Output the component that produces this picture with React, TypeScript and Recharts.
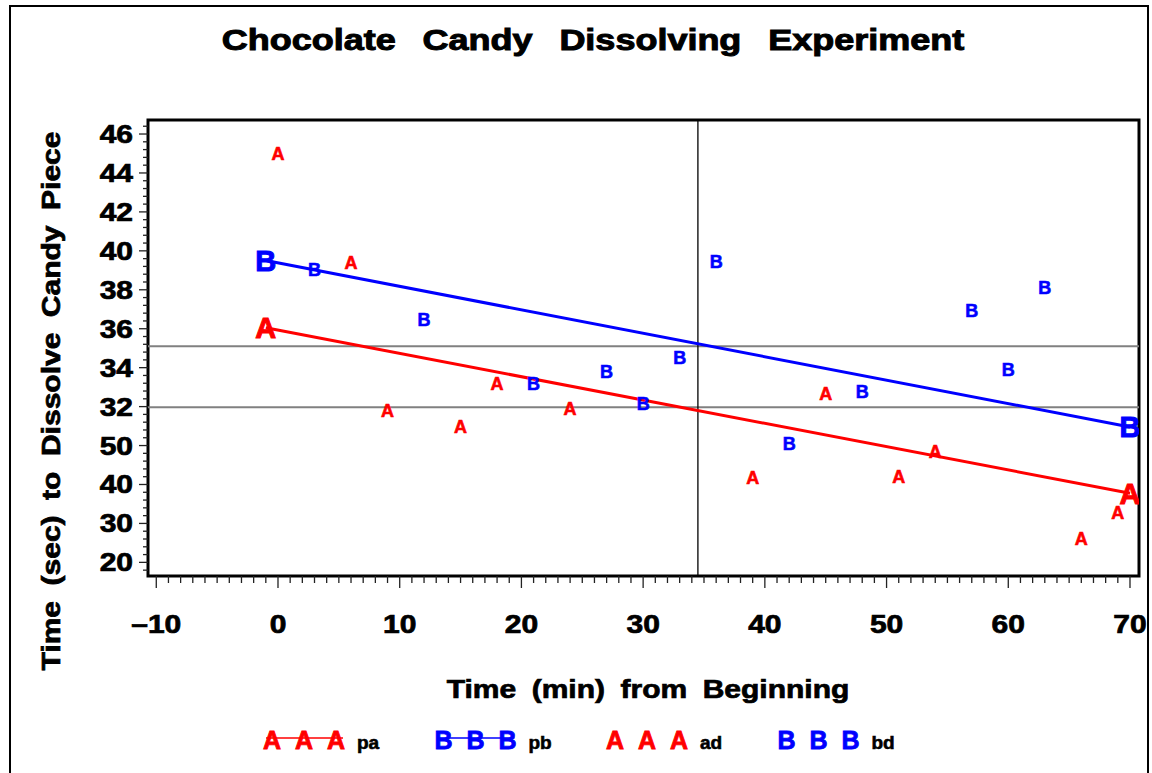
import React from 'react';
import {
  ScatterChart,
  Scatter,
  XAxis,
  YAxis,
  ReferenceLine,
  ReferenceArea,
  Legend,
  Label,
} from 'recharts';

const FONT = '"Liberation Sans", Arial, Helvetica, sans-serif';
const RED = '#ff0000';
const BLUE = '#0000ff';

// raw points (y is the position on the drawn axis)
const adTimes = [0, 6, 9, 15, 18, 24, 39, 45, 51, 54, 66, 69];
const adValues = [45.0, 39.4, 31.8, 31.0, 33.2, 31.9, 28.35, 32.65, 28.4, 29.7, 25.25, 26.55];
const bdTimes = [3, 12, 21, 27, 30, 33, 36, 42, 48, 57, 60, 63];
const bdValues = [39.05, 36.45, 33.2, 33.8, 32.15, 34.5, 39.45, 30.1, 32.75, 36.95, 33.9, 38.1];

// fitted lines, end points
const fitTimes = [-1, 70];
const paValues = [36.05, 27.55];
const pbValues = [39.5, 30.95];

// reference lines
const refX = [34.5];
const refY = [35.1, 31.97];

// axes
const xMajorTicks = [-10, 0, 10, 20, 30, 40, 50, 60, 70];
const yMajorTicks = [24, 26, 28, 30, 32, 34, 36, 38, 40, 42, 44, 46];
const yTickLabels = ['20', '30', '40', '50', '32', '34', '36', '38', '40', '42', '44', '46'];

const xDomain = [-10.68, 70.74];
const yDomain = [23.3, 46.72];

const xTicks: number[] = [];
for (let v = -10; v <= 70; v++) xTicks.push(v);
const yTicks: number[] = [];
for (let i = 0; i <= 57; i++) yTicks.push(Math.round((23.6 + i * 0.4) * 10) / 10);

const toPoints = (xs: number[], ys: number[]) => xs.map((x, i) => ({ x, y: ys[i] }));

const legendItems = [
  { name: 'pa', letter: 'A', color: RED, line: true },
  { name: 'pb', letter: 'B', color: BLUE, line: true },
  { name: 'ad', letter: 'A', color: RED, line: false },
  { name: 'bd', letter: 'B', color: BLUE, line: false },
];

const Wide = ({ x, y, size, anchor = 'start', sx = 1.2, rotate = 0, spacing = 0, fill = '#000', heavy = 0.7, children }: any) => (
  <text
    transform={`translate(${x},${y})${rotate ? ` rotate(${rotate})` : ''} scale(${sx},1)`}
    textAnchor={anchor}
    fontSize={size}
    fontWeight="bold"
    fontFamily={FONT}
    fill={fill}
    stroke={fill}
    strokeWidth={heavy}
    style={{ wordSpacing: `${spacing}px` }}
  >
    {children}
  </text>
);

const letterShape = (ch: string, color: string, size: number) => (props: any) => {
  const { cx, cy } = props;
  if (cx == null || cy == null) return <g />;
  return (
    <text
      x={cx}
      y={cy + size * 0.36}
      textAnchor="middle"
      fill={color}
      stroke={color}
      strokeWidth={size > 20 ? 1 : 0.6}
      fontSize={size}
      fontWeight="bold"
      fontFamily={FONT}
    >
      {ch}
    </text>
  );
};

const XTick = (props: any) => {
  const { x, y, payload } = props;
  const v = payload.value;
  const major = xMajorTicks.includes(v);
  return (
    <g>
      <line x1={x} y1={y} x2={x} y2={y + (major ? 12 : 7)} stroke="#222" strokeWidth={1.3} />
      {major && (
        <Wide x={x} y={y + 57} size={25} anchor="middle">
          {v < 0 ? `\u2013${Math.abs(v)}` : String(v)}
        </Wide>
      )}
    </g>
  );
};

const YTick = (props: any) => {
  const { x, y, payload } = props;
  const idx = yMajorTicks.indexOf(payload.value);
  const major = idx >= 0;
  return (
    <g>
      <line x1={x} y1={y} x2={x - (major ? 9 : 5)} y2={y} stroke="#222" strokeWidth={1.3} />
      {major && (
        <Wide x={x - 15} y={y + 9} size={25} anchor="end">
          {yTickLabels[idx]}
        </Wide>
      )}
    </g>
  );
};

const renderLegend = () => (
  <svg width={1152} height={50} style={{ display: 'block' }}>
    {legendItems.map((item, i) => {
      const x0 = 272 + i * 171.5;
      return (
        <g key={item.name}>
          {item.line && (
            <line x1={x0 - 6} y1={26} x2={x0 + 71} y2={26} stroke={item.color} strokeWidth={1.5} />
          )}
          {[0, 32, 64].map((dx) => (
            <text
              key={dx}
              x={x0 + dx}
              y={37}
              textAnchor="middle"
              fill={item.color}
              stroke={item.color}
              strokeWidth={0.8}
              fontSize={25}
              fontWeight="bold"
              fontFamily={FONT}
            >
              {item.letter}
            </text>
          ))}
          <text
            x={x0 + 85}
            y={37}
            fontSize={19}
            fontWeight="bold"
            fontFamily={FONT}
            fill="#000"
            stroke="#000"
            strokeWidth={0.6}
          >
            {item.name}
          </text>
        </g>
      );
    })}
  </svg>
);

export default function App() {
  return (
    <div
      style={{
        position: 'absolute',
        left: 0,
        top: 0,
        width: 1152,
        height: 773,
        overflow: 'hidden',
        background: '#fff',
      }}
    >
      <div
        style={{
          position: 'absolute',
          left: 9,
          top: 5,
          width: 1136,
          height: 900,
          border: '2px solid #000',
        }}
      />
      <svg
        width={1152}
        height={80}
        style={{ position: 'absolute', left: 0, top: 0, pointerEvents: 'none' }}
      >
        <Wide x={593} y={50} size={30} anchor="middle" spacing={14} heavy={1}>
          Chocolate Candy Dissolving Experiment
        </Wide>
      </svg>
      <div style={{ position: 'absolute', left: 0, top: 0 }}>
        <ScatterChart width={1152} height={773} margin={{ top: 120, right: 13, bottom: 137, left: 58 }}>
          <XAxis
            type="number"
            dataKey="x"
            domain={xDomain}
            allowDataOverflow
            ticks={xTicks}
            interval={0}
            tickSize={0}
            tickMargin={0}
            tickLine={false}
            axisLine={false}
            tick={<XTick />}
            height={60}
          >
            <Label
              content={() => (
                <Wide x={648} y={698} size={25} anchor="middle" spacing={6}>
                  Time (min) from Beginning
                </Wide>
              )}
            />
          </XAxis>
          <YAxis
            type="number"
            dataKey="y"
            domain={yDomain}
            allowDataOverflow
            ticks={yTicks}
            interval={0}
            tickSize={0}
            tickMargin={0}
            tickLine={false}
            axisLine={false}
            tick={<YTick />}
            width={90}
          >
            <Label
              content={() => (
                <Wide x={60} y={401} size={25} anchor="middle" rotate={-90} spacing={6}>
                  Time (sec) to Dissolve Candy Piece
                </Wide>
              )}
            />
          </YAxis>
          {refY.map((v) => (
            <ReferenceLine key={v} y={v} stroke="#808080" strokeWidth={2} />
          ))}
          {refX.map((v) => (
            <ReferenceLine key={v} x={v} stroke="#000" strokeWidth={1.3} />
          ))}
          <Scatter
            name="pa"
            data={toPoints(fitTimes, paValues)}
            line={{ stroke: RED, strokeWidth: 3 }}
            shape={letterShape('A', RED, 29)}
            isAnimationActive={false}
          />
          <Scatter
            name="pb"
            data={toPoints(fitTimes, pbValues)}
            line={{ stroke: BLUE, strokeWidth: 3 }}
            shape={letterShape('B', BLUE, 29)}
            isAnimationActive={false}
          />
          <Scatter
            name="ad"
            data={toPoints(adTimes, adValues)}
            shape={letterShape('A', RED, 18)}
            isAnimationActive={false}
          />
          <Scatter
            name="bd"
            data={toPoints(bdTimes, bdValues)}
            shape={letterShape('B', BLUE, 18)}
            isAnimationActive={false}
          />
          <ReferenceArea
            x1={xDomain[0]}
            x2={xDomain[1]}
            y1={yDomain[0]}
            y2={yDomain[1]}
            stroke="#000"
            strokeWidth={3}
            fill="none"
            fillOpacity={0}
          />
          <Legend
            layout="horizontal"
            verticalAlign="middle"
            align="center"
            wrapperStyle={{ left: 0, top: 712, width: 1152, height: 50 }}
            content={renderLegend}
          />
        </ScatterChart>
      </div>
    </div>
  );
}
